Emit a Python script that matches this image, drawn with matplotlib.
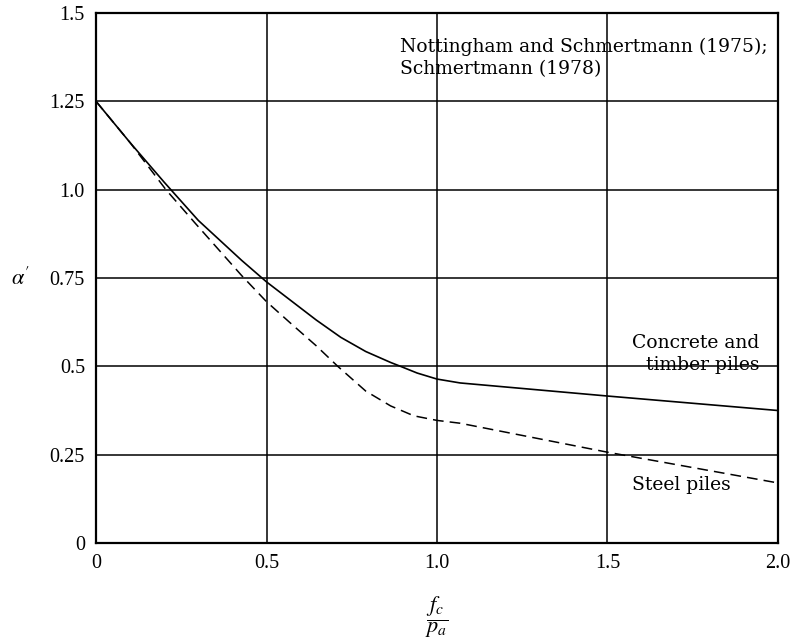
import matplotlib
matplotlib.use('Agg')
import matplotlib.pyplot as plt

# ==========================================
# data
# ==========================================
concrete_x = [0.0, 0.1, 0.2, 0.3, 0.427, 0.5, 0.573, 0.646, 0.718, 0.791,
              0.864, 0.893, 0.942, 1.0, 1.068, 1.5, 2.0]
concrete_y = [1.25, 1.133, 1.021, 0.913, 0.800, 0.739, 0.685, 0.631, 0.582, 0.542,
              0.511, 0.5, 0.481, 0.464, 0.453, 0.416, 0.375]

steel_x = [0.0, 0.1, 0.205, 0.29, 0.427, 0.5, 0.573, 0.646, 0.709, 0.791,
           0.864, 0.932, 1.0, 1.068, 1.5, 2.0]
steel_y = [1.25, 1.133, 1.0, 0.906, 0.757, 0.683, 0.620, 0.558, 0.5, 0.430,
           0.388, 0.360, 0.347, 0.339, 0.257, 0.170]

x_ticks = [0, 0.5, 1.0, 1.5, 2.0]
x_tick_labels = ['0', '0.5', '1.0', '1.5', '2.0']
y_ticks = [0, 0.25, 0.5, 0.75, 1.0, 1.25, 1.5]
y_tick_labels = ['0', '0.25', '0.5', '0.75', '1.0', '1.25', '1.5']

source_text = 'Nottingham and Schmertmann (1975);\nSchmertmann (1978)'
concrete_label = 'Concrete and\ntimber piles'
steel_label = 'Steel piles'

plt.rcParams['mathtext.fontset'] = 'stix'

fig = plt.figure(figsize=(7.95, 6.44), dpi=100)
ax = fig.add_axes([0.1208, 0.1568, 0.8578, 0.823])

ax.plot(concrete_x, concrete_y, color='black', linewidth=1.2)
ax.plot(steel_x, steel_y, color='black', linewidth=1.1, linestyle=(0, (7, 4)))

ax.set_xlim(0, 2.0)
ax.set_ylim(0, 1.5)
ax.set_xticks(x_ticks)
ax.set_xticklabels(x_tick_labels)
ax.set_yticks(y_ticks)
ax.set_yticklabels(y_tick_labels)
ax.tick_params(length=0, labelsize=14.5, pad=8)
for lab in ax.get_xticklabels() + ax.get_yticklabels():
    lab.set_family('Liberation Serif')

ax.grid(True, color='black', linewidth=1.1)
ax.set_axisbelow(True)
for sp in ax.spines.values():
    sp.set_linewidth(1.6)

serif = 'DejaVu Serif'
ax.text(0.891, 1.43, source_text, ha='left', va='top', fontsize=13.5,
        family=serif, linespacing=1.3)
ax.text(1.945, 0.534, concrete_label, ha='right', va='center', fontsize=13.5,
        family=serif, linespacing=1.3, multialignment='right')
ax.text(1.572, 0.164, steel_label, ha='left', va='center', fontsize=13.5,
        family=serif)

ax.text(-0.223, 0.75, r"$\alpha'$", ha='center', va='center', fontsize=16)
ax.text(1.0, -0.209, r"$\dfrac{f_c}{p_a}$", ha='center', va='center', fontsize=16,
        clip_on=False)

plt.savefig('out.png', dpi=100)
